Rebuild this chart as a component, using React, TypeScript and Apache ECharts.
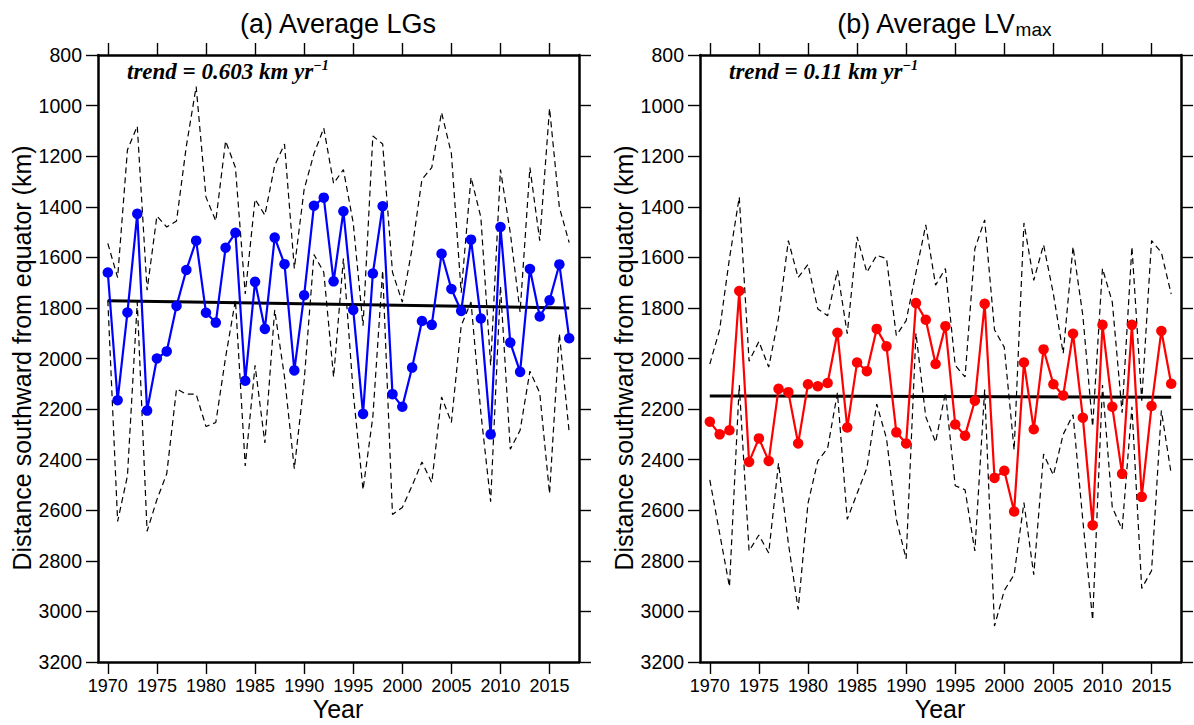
import React, { useEffect, useRef } from "react";
import * as echarts from "echarts";

const years = [
  1970, 1971, 1972, 1973, 1974, 1975, 1976, 1977, 1978, 1979,
  1980, 1981, 1982, 1983, 1984, 1985, 1986, 1987, 1988, 1989,
  1990, 1991, 1992, 1993, 1994, 1995, 1996, 1997, 1998, 1999,
  2000, 2001, 2002, 2003, 2004, 2005, 2006, 2007, 2008, 2009,
  2010, 2011, 2012, 2013, 2014, 2015, 2016, 2017,
];

const xTickYears = [1970, 1975, 1980, 1985, 1990, 1995, 2000, 2005, 2010, 2015];

// Panel (a): Average LGs
const meanA = [
  1660, 2165, 1818, 1428, 2206, 2000, 1972, 1792, 1650, 1534,
  1819, 1858, 1562, 1503, 2088, 1697, 1883, 1522, 1627, 2047,
  1750, 1396, 1364, 1695, 1418, 1808, 2219, 1664, 1398, 2141,
  2191, 2036, 1852, 1867, 1586, 1725, 1812, 1530, 1842, 2300,
  1480, 1937, 2053, 1646, 1834, 1770, 1628, 1920,
];
const upperA = [
  1545, 1680, 1175, 1081, 1730, 1437, 1480, 1456, 1160, 925,
  1362, 1456, 1140, 1245, 1745, 1370, 1433, 1237, 1152, 1644,
  1331, 1190, 1089, 1308, 1253, 1464, 1870, 1120, 1152, 1659,
  1777, 1565, 1292, 1245, 1027, 1190, 1740, 1284, 1441, 2027,
  1253, 1503, 1816, 1245, 1534, 1011, 1402, 1542,
];
const lowerA = [
  1770, 2644, 2464, 1777, 2683, 2558, 2456, 2120, 2141, 2141,
  2269, 2253, 1995, 1769, 2425, 2027, 2334, 1808, 2073, 2436,
  2089, 1589, 1659, 2073, 1605, 2136, 2519, 2230, 1652, 2617,
  2589, 2503, 2409, 2491, 2152, 2253, 1870, 1777, 2214, 2566,
  1714, 2359, 2284, 2050, 2136, 2534, 1902, 2292,
];
const trendA = [1772, 1800]; // values at 1970 and 2017

// Panel (b): Average LVmax
const meanB = [
  2250, 2300, 2284, 1733, 2409, 2316, 2405, 2120, 2133, 2336,
  2102, 2110, 2097, 1898, 2273, 2016, 2050, 1883, 1952, 2292,
  2336, 1781, 1847, 2022, 1872, 2261, 2305, 2167, 1784, 2472,
  2444, 2605, 2016, 2280, 1964, 2102, 2146, 1902, 2234, 2659,
  1867, 2191, 2456, 1867, 2547, 2188, 1891, 2100,
];
const upperB = [
  2022, 1886, 1605, 1362, 2011, 1933, 2034, 1839, 1534, 1680,
  1628, 1804, 1831, 1652, 1902, 1519, 1659, 1592, 1605, 1909,
  1850, 1660, 1472, 1710, 1644, 2027, 2073, 1566, 1452, 1886,
  1956, 2362, 1464, 1691, 1550, 1745, 1980, 1558, 1830, 2269,
  1644, 1777, 2214, 1558, 2167, 1534, 1581, 1745,
];
const lowerB = [
  2480, 2691, 2902, 2105, 2761, 2698, 2769, 2414, 2730, 2992,
  2573, 2405, 2355, 2136, 2636, 2534, 2433, 2180, 2316, 2636,
  2792, 1900, 2230, 2331, 2135, 2503, 2519, 2761, 2123, 3058,
  2917, 2855, 2570, 2855, 2378, 2461, 2300, 2222, 2640, 3034,
  2105, 2589, 2675, 2191, 2909, 2839, 2206, 2456,
];
const trendB = [2148, 2153];

const trendYears = [1970, 2017];

const SANS = "'Liberation Sans', Arial, Helvetica, sans-serif";
const SERIF = "'Liberation Serif', 'Times New Roman', serif";

function pairs(vals: number[]) {
  return years.map((y, i) => [y, vals[i]]);
}

const plain = (v: number) => String(Math.round(v));

export default function App() {
  const ref = useRef<HTMLDivElement>(null);

  useEffect(() => {
    document.body.style.margin = "0";
    const chart = echarts.init(ref.current!, null, { renderer: "svg" });

    const grids = [
      { left: 98, top: 55, width: 481, height: 607 },
      { left: 700, top: 55, width: 481, height: 607 },
    ];

    const xAxes: any[] = [];
    const yAxes: any[] = [];
    [0, 1].forEach((g) => {
      // bottom
      xAxes.push({
        type: "value",
        gridIndex: g,
        position: "bottom",
        min: 1969,
        max: 2018,
        axisLine: { show: true, lineStyle: { color: "#000", width: 2.5 } },
        axisTick: { show: true, length: 12, customValues: xTickYears, lineStyle: { color: "#000", width: 1.4 } },
        axisLabel: {
          show: true,
          customValues: xTickYears,
          formatter: plain,
          margin: 15,
          fontSize: 18,
          fontFamily: SANS,
          color: "#000",
        },
        splitLine: { show: false },
      });
      // top
      xAxes.push({
        type: "value",
        gridIndex: g,
        position: "top",
        min: 1969,
        max: 2018,
        axisLine: { show: true, lineStyle: { color: "#000", width: 2.5 } },
        axisTick: { show: true, length: 12, customValues: xTickYears, lineStyle: { color: "#000", width: 1.4 } },
        axisLabel: { show: false },
        splitLine: { show: false },
      });
      // left
      yAxes.push({
        type: "value",
        gridIndex: g,
        position: "left",
        inverse: true,
        min: 800,
        max: 3200,
        interval: 200,
        axisLine: { show: true, lineStyle: { color: "#000", width: 2.5 } },
        axisTick: { show: true, length: 12, lineStyle: { color: "#000", width: 1.4 } },
        axisLabel: { show: true, formatter: plain, margin: 16, fontSize: 19.5, fontFamily: SANS, color: "#000" },
        splitLine: { show: false },
      });
      // right
      yAxes.push({
        type: "value",
        gridIndex: g,
        position: "right",
        inverse: true,
        min: 800,
        max: 3200,
        interval: 200,
        axisLine: { show: true, lineStyle: { color: "#000", width: 2.5 } },
        axisTick: { show: true, length: 12, lineStyle: { color: "#000", width: 1.4 } },
        axisLabel: { show: false },
        splitLine: { show: false },
      });
    });

    const dashed = (data: number[], xi: number, yi: number) => ({
      type: "line",
      xAxisIndex: xi,
      yAxisIndex: yi,
      data: pairs(data),
      showSymbol: false,
      symbol: "none",
      lineStyle: { color: "#000", width: 1.2, type: [6, 4] },
      z: 2,
      silent: true,
    });
    const trend = (vals: number[], xi: number, yi: number) => ({
      type: "line",
      xAxisIndex: xi,
      yAxisIndex: yi,
      data: trendYears.map((y, i) => [y, vals[i]]),
      symbol: "none",
      lineStyle: { color: "#000", width: 3 },
      z: 3,
      silent: true,
    });
    const mean = (vals: number[], color: string, xi: number, yi: number) => ({
      type: "line",
      xAxisIndex: xi,
      yAxisIndex: yi,
      data: pairs(vals),
      symbol: "circle",
      symbolSize: 10.5,
      lineStyle: { color, width: 2.2 },
      itemStyle: { color, borderWidth: 0 },
      z: 4,
      silent: true,
    });

    const series = [
      dashed(upperA, 0, 0),
      dashed(lowerA, 0, 0),
      trend(trendA, 0, 0),
      mean(meanA, "#0000ff", 0, 0),
      dashed(upperB, 2, 2),
      dashed(lowerB, 2, 2),
      trend(trendB, 2, 2),
      mean(meanB, "#ff0000", 2, 2),
    ];

    const titleFont = `27px ${SANS}`;
    const nameFont = `25px ${SANS}`;
    const trendRich = {
      t: { font: `bold italic 23px ${SERIF}`, lineHeight: 26, fill: "#000" },
      s: { font: `bold italic 14px ${SERIF}`, lineHeight: 13, verticalAlign: "top", fill: "#000" },
    };

    const graphic: any[] = [
      {
        type: "text",
        x: 338,
        y: 24,
        style: { text: "(a) Average LGs", font: titleFont, fill: "#000", align: "center", verticalAlign: "middle" },
      },
      {
        type: "text",
        x: 944,
        y: 24,
        style: {
          text: "{t|(b) Average LV}{s|max}",
          fill: "#000",
          align: "center",
          verticalAlign: "middle",
          rich: {
            t: { font: titleFont, lineHeight: 30, fill: "#000" },
            s: { font: `19px ${SANS}`, lineHeight: 8, verticalAlign: "bottom", fill: "#000" },
          },
        },
      },
      {
        type: "text",
        x: 127,
        y: 71,
        style: {
          text: "{t|trend = 0.603 km yr}{s|\u22121}",
          fill: "#000",
          align: "left",
          verticalAlign: "middle",
          rich: trendRich,
        },
      },
      {
        type: "text",
        x: 729,
        y: 71,
        style: {
          text: "{t|trend = 0.11 km yr}{s|\u22121}",
          fill: "#000",
          align: "left",
          verticalAlign: "middle",
          rich: trendRich,
        },
      },
      {
        type: "text",
        x: 338,
        y: 709,
        style: { text: "Year", font: nameFont, fill: "#000", align: "center", verticalAlign: "middle" },
      },
      {
        type: "text",
        x: 940,
        y: 709,
        style: { text: "Year", font: nameFont, fill: "#000", align: "center", verticalAlign: "middle" },
      },
      {
        type: "text",
        x: 22,
        y: 358,
        rotation: Math.PI / 2,
        style: {
          text: "Distance southward from equator (km)",
          font: nameFont,
          fill: "#000",
          align: "center",
          verticalAlign: "middle",
        },
      },
      {
        type: "text",
        x: 624,
        y: 358,
        rotation: Math.PI / 2,
        style: {
          text: "Distance southward from equator (km)",
          font: nameFont,
          fill: "#000",
          align: "center",
          verticalAlign: "middle",
        },
      },
    ];

    chart.setOption({
      animation: false,
      backgroundColor: "#fff",
      grid: grids,
      xAxis: xAxes,
      yAxis: yAxes,
      series,
      graphic,
    });

    return () => {
      chart.dispose();
    };
  }, []);

  return <div ref={ref} style={{ width: 1194, height: 725 }} />;
}
